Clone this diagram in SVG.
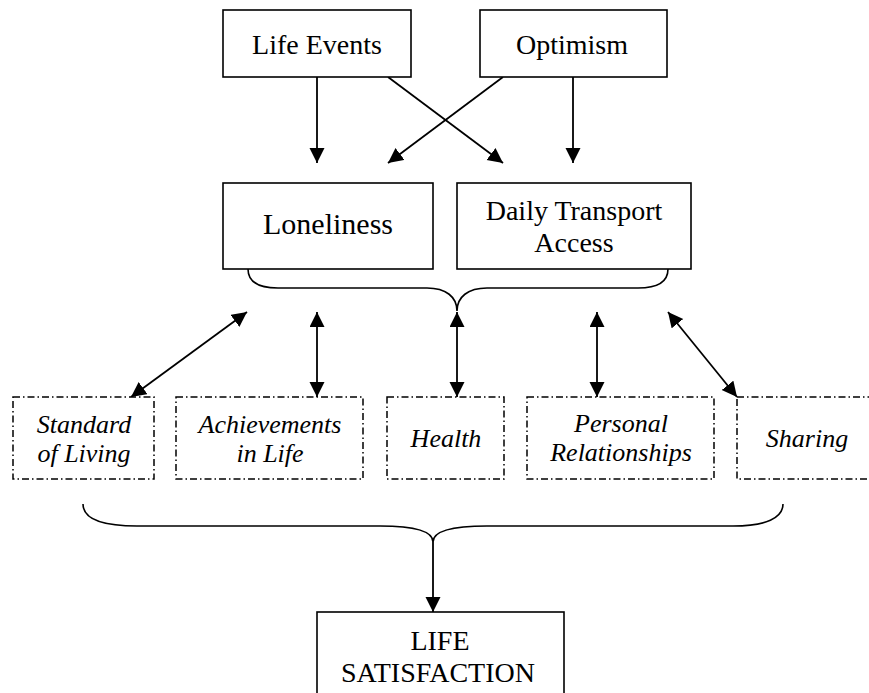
<svg xmlns="http://www.w3.org/2000/svg" width="869" height="693" viewBox="0 0 869 693">
<defs>
<marker id="ah" markerUnits="userSpaceOnUse" markerWidth="16" markerHeight="16" viewBox="0 0 16 16" refX="15" refY="7.5" orient="auto-start-reverse">
<path d="M0,0 L15,7.5 L0,15 z" fill="#000"/>
</marker>
<style>
.box{fill:#fff;stroke:#000;stroke-width:1.6}
.dbox{fill:#fff;stroke:#000;stroke-width:1.5;stroke-dasharray:7 3 1.5 3}
.t{font-family:"Liberation Serif","Times New Roman",serif;font-size:28px;fill:#000;text-anchor:middle}
.it{font-family:"Liberation Serif","Times New Roman",serif;font-size:26px;font-style:italic;fill:#000;text-anchor:middle}
.ln{fill:none;stroke:#000;stroke-width:1.8}
.br{fill:none;stroke:#000;stroke-width:1.6}
</style>
</defs>
<rect width="869" height="693" fill="#fff"/>
<g id="connectors">
<line class="ln" x1="317" y1="77" x2="317" y2="163" marker-end="url(#ah)"/>
<line class="ln" x1="573" y1="77" x2="573" y2="163" marker-end="url(#ah)"/>
<line class="ln" x1="388" y1="77" x2="503" y2="163" marker-end="url(#ah)"/>
<line class="ln" x1="503" y1="77" x2="388" y2="163" marker-end="url(#ah)"/>
<path class="br" d="M248,269 C248,282 258,288 278,288 L427,288 C446,288 457,297 457,311 C457,297 468,288 487,288 L638,288 C658,288 668,282 668,269"/>
<line class="ln" x1="247" y1="312" x2="131" y2="397" marker-start="url(#ah)" marker-end="url(#ah)"/>
<line class="ln" x1="317" y1="312" x2="317" y2="397" marker-start="url(#ah)" marker-end="url(#ah)"/>
<line class="ln" x1="457" y1="312" x2="457" y2="397" marker-start="url(#ah)" marker-end="url(#ah)"/>
<line class="ln" x1="597" y1="312" x2="597" y2="397" marker-start="url(#ah)" marker-end="url(#ah)"/>
<line class="ln" x1="668" y1="312" x2="737" y2="397" marker-start="url(#ah)" marker-end="url(#ah)"/>
<path class="br" d="M83,504 C83,518 100,526 137,526 L380,526 C414,526 433,531 433,542 C433,531 452,526 487,526 L733,526 C766,526 783,518 783,504"/>
<line class="ln" x1="433" y1="542" x2="433" y2="612" marker-end="url(#ah)"/>
</g>
<g id="life-events"><rect class="box" x="223" y="10" width="188" height="67"/><text class="t" x="317" y="54">Life Events</text></g>
<g id="optimism"><rect class="box" x="480" y="10" width="187" height="67"/><text class="t" x="572" y="54">Optimism</text></g>
<g id="loneliness"><rect class="box" x="223" y="183" width="210" height="86"/><text class="t" x="328" y="234" style="font-size:30px">Loneliness</text></g>
<g id="daily-transport"><rect class="box" x="457" y="183" width="234" height="86"/><text class="t" x="574" y="220">Daily Transport</text><text class="t" x="574" y="252">Access</text></g>
<g id="standard"><rect class="dbox" x="13" y="397" width="141" height="82"/><text class="it" x="84" y="433">Standard</text><text class="it" x="84" y="462">of Living</text></g>
<g id="achievements"><rect class="dbox" x="176" y="397" width="187" height="82"/><text class="it" x="270" y="433">Achievements</text><text class="it" x="270" y="462">in Life</text></g>
<g id="health"><rect class="dbox" x="387" y="397" width="117" height="82"/><text class="it" x="446" y="447">Health</text></g>
<g id="personal"><rect class="dbox" x="527" y="397" width="187" height="82"/><text class="it" x="621" y="432">Personal</text><text class="it" x="621" y="461">Relationships</text></g>
<g id="sharing"><rect class="dbox" x="737" y="397" width="140" height="82"/><text class="it" x="807" y="447">Sharing</text></g>
<g id="life-satisfaction"><rect class="box" x="317" y="612" width="247" height="100"/><text class="t" x="440" y="650">LIFE</text><text class="t" x="438" y="682">SATISFACTION</text></g>
</svg>
